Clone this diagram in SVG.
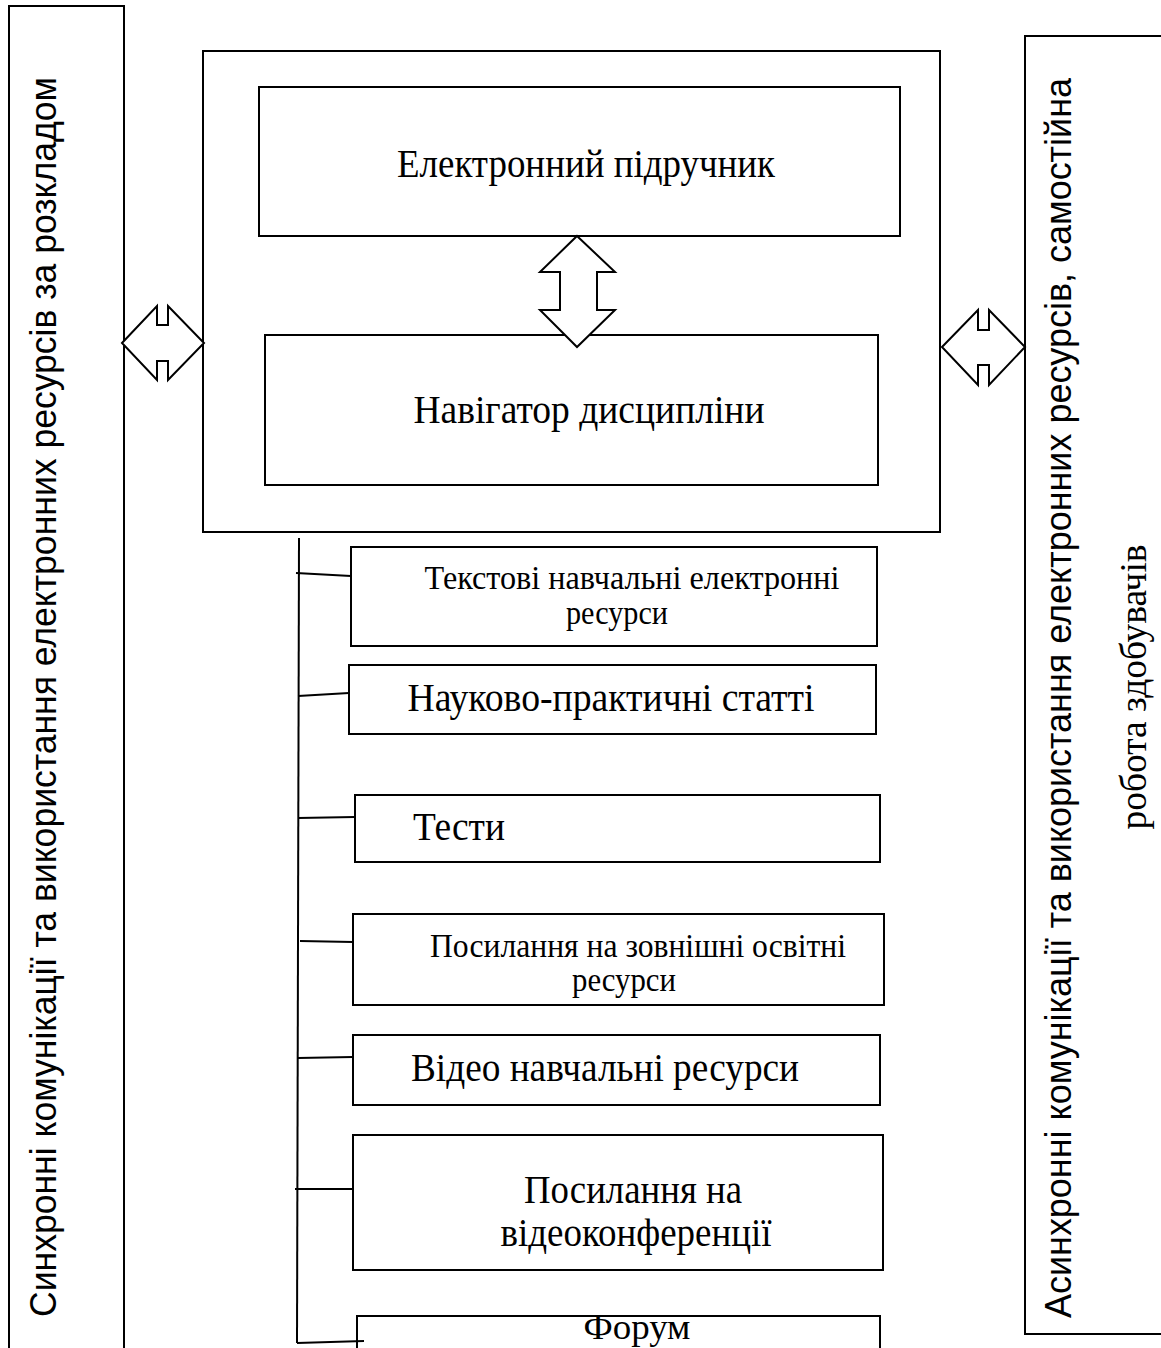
<svg xmlns="http://www.w3.org/2000/svg" width="1161" height="1348" viewBox="0 0 1161 1348">
  <style>
    .box { fill: #fff; stroke: #000; stroke-width: 2; }
    .arrow { fill: #fff; stroke: #000; stroke-width: 2; stroke-linejoin: miter; }
    .link { fill: none; stroke: #000; stroke-width: 2; }
    .serif { font-family: "Liberation Serif", "Times New Roman", serif; fill: #000; }
    .sans { font-family: "Liberation Sans", Arial, sans-serif; fill: #000; }
    .big { font-size: 40px; }
    .small { font-size: 33px; }
    .side { font-size: 37px; }
  </style>

  <!-- left column: synchronous communication -->
  <g id="sync-column">
    <rect class="box" x="9" y="6" width="115" height="1360"/>
    <text class="sans side" transform="translate(56,697) rotate(-90)" text-anchor="middle" textLength="1240" lengthAdjust="spacingAndGlyphs">Синхронні комунікації та використання електронних ресурсів за розкладом</text>
  </g>

  <!-- right column: asynchronous communication -->
  <g id="async-column">
    <rect class="box" x="1025" y="36" width="160" height="1298"/>
    <text class="sans side" transform="translate(1071,698) rotate(-90)" text-anchor="middle" textLength="1240" lengthAdjust="spacingAndGlyphs">Асинхронні комунікації та використання електронних ресурсів, самостійна</text>
    <text class="serif side" transform="translate(1146,687) rotate(-90)" text-anchor="middle" textLength="285" lengthAdjust="spacingAndGlyphs">робота здобувачів</text>
  </g>

  <!-- central course container -->
  <g id="course-core">
    <rect class="box" x="203" y="51" width="737" height="481"/>
  </g>

  <g id="e-textbook">
    <rect class="box" x="259" y="87" width="641" height="149"/>
    <text class="serif big" x="586" y="177" text-anchor="middle" textLength="378" lengthAdjust="spacingAndGlyphs">Електронний підручник</text>
  </g>

  <g id="course-navigator">
    <rect class="box" x="265" y="335" width="613" height="150"/>
    <text class="serif big" x="589" y="423" text-anchor="middle" textLength="351" lengthAdjust="spacingAndGlyphs">Навігатор дисципліни</text>
  </g>

  <!-- resource list -->
  <g id="text-resources">
    <rect class="box" x="351" y="547" width="526" height="99"/>
    <text class="serif small" x="632" y="589" text-anchor="middle" textLength="415" lengthAdjust="spacingAndGlyphs">Текстові навчальні електронні</text>
    <text class="serif small" x="617" y="624" text-anchor="middle" textLength="102" lengthAdjust="spacingAndGlyphs">ресурси</text>
  </g>

  <g id="articles">
    <rect class="box" x="349" y="665" width="527" height="69"/>
    <text class="serif big" x="611" y="711" text-anchor="middle" textLength="407" lengthAdjust="spacingAndGlyphs">Науково-практичні статті</text>
  </g>

  <g id="tests">
    <rect class="box" x="355" y="795" width="525" height="67"/>
    <text class="serif big" x="413" y="840" textLength="92" lengthAdjust="spacingAndGlyphs">Тести</text>
  </g>

  <g id="external-links">
    <rect class="box" x="353" y="914" width="531" height="91"/>
    <text class="serif small" x="638" y="957" text-anchor="middle" textLength="416" lengthAdjust="spacingAndGlyphs">Посилання на зовнішні освітні</text>
    <text class="serif small" x="624" y="991" text-anchor="middle" textLength="104" lengthAdjust="spacingAndGlyphs">ресурси</text>
  </g>

  <g id="video-resources">
    <rect class="box" x="353" y="1035" width="527" height="70"/>
    <text class="serif big" x="605" y="1081" text-anchor="middle" textLength="388" lengthAdjust="spacingAndGlyphs">Відео навчальні ресурси</text>
  </g>

  <g id="video-conferences">
    <rect class="box" x="353" y="1135" width="530" height="135"/>
    <text class="serif big" x="633" y="1203" text-anchor="middle" textLength="218" lengthAdjust="spacingAndGlyphs">Посилання на</text>
    <text class="serif big" x="636" y="1246" text-anchor="middle" textLength="271" lengthAdjust="spacingAndGlyphs">відеоконференції</text>
  </g>

  <g id="forum">
    <rect class="box" x="357" y="1316" width="523" height="60"/>
    <text class="serif" style="font-size:36px" x="637" y="1339" text-anchor="middle" textLength="107" lengthAdjust="spacingAndGlyphs">Форум</text>
  </g>

  <!-- connectors -->
  <g id="connectors">
    <path class="link" d="M299,538 L297,1343"/>
    <path class="link" d="M296,573 L351,576"/>
    <path class="link" d="M298,696 L349,693"/>
    <path class="link" d="M298,818 L355,817"/>
    <path class="link" d="M300,941 L353,942"/>
    <path class="link" d="M298,1058 L353,1057"/>
    <path class="link" d="M295,1189 L353,1189"/>
    <path class="link" d="M297,1343 L364,1341"/>
    <!-- two-way block arrows -->
    <polygon class="arrow" points="577,236 615,272 597,272 597,310 615,310 577,347 540,310 560,310 560,272 540,272"/>
    <polygon class="arrow" points="122,343 157,306 157,325 168,325 168,306 204,343 168,380 168,361 157,361 157,380"/>
    <polygon class="arrow" points="942,347 978,310 978,330 989,330 989,310 1025,347 989,385 989,365 978,365 978,385"/>
  </g>
</svg>
